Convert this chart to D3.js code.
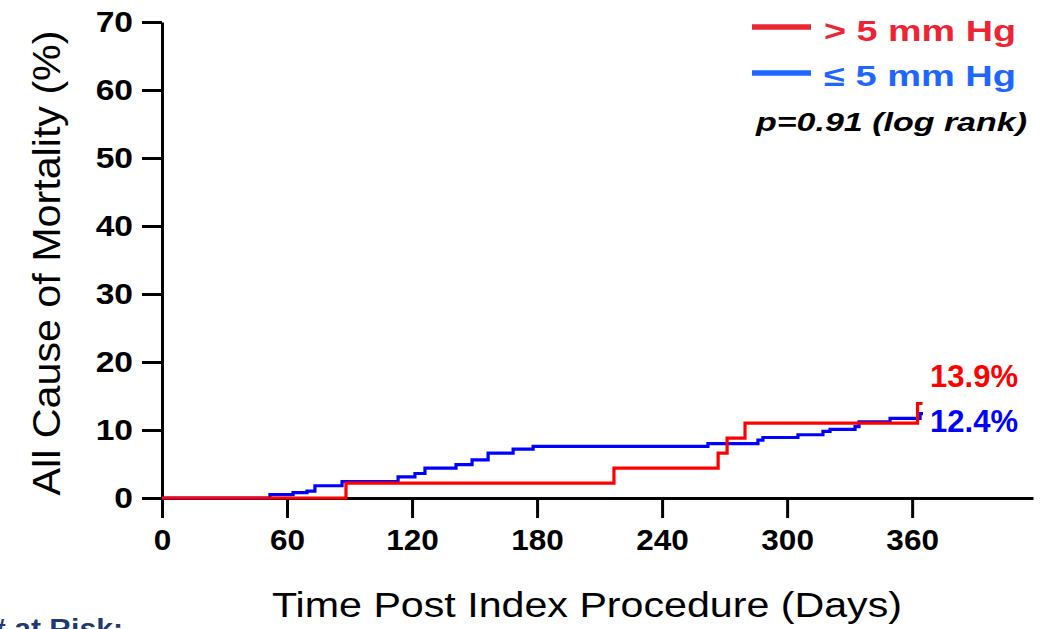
<!DOCTYPE html>
<html>
<head>
<meta charset="utf-8">
<script src="https://cdn.jsdelivr.net/npm/d3@7"></script>
<style>
  html, body { margin: 0; padding: 0; background: #fff; }
  svg { display: block; }
  text { font-family: "Liberation Sans", Arial, sans-serif; }
</style>
</head>
<body>
<svg id="chart" width="1055" height="629"></svg>
<script>
// Kaplan–Meier step data: event days and cumulative mortality (%)
const highDays = [0, 88.3, 216.9, 266.9, 271.2, 279.8, 362.6];
const highPct  = [0, 2.2, 4.4, 6.6, 8.8, 11.0, 13.9];
const highLastDay = 365;

const lowDays = [0, 51.8, 62.9, 69.6, 73.4, 86.4, 113.3, 121.4, 126.2, 141.1, 148.8, 156.5,
                 168.5, 178.1, 262, 286, 288.4, 305.2, 317.2, 320.6, 332.6, 334.5, 349.4, 363.8];
const lowPct  = [0, 0.5, 0.8, 1.0, 1.8, 2.4, 3.1, 3.6, 4.4, 4.9, 5.6, 6.6,
                 7.2, 7.6, 8.0, 8.5, 8.9, 9.3, 9.8, 10.1, 10.5, 11.2, 11.7, 12.4];
const lowLastDay = 365.2;

const xTicks = [0, 60, 120, 180, 240, 300, 360];
const yTicks = [0, 10, 20, 30, 40, 50, 60, 70];

const seriesNames = ["> 5 mm Hg", "\u2264 5 mm Hg"];
const finalLabels = ["13.9%", "12.4%"];
const pText = "p=0.91 (log rank)";
const xTitle = "Time Post Index Procedure (Days)";
const yTitle = "All Cause of Mortality (%)";
const riskText = "# at Risk:";

const svg = d3.select("#chart");

const x = d3.scaleLinear().domain([0, 418]).range([162, 1033]);
const y = d3.scaleLinear().domain([0, 70]).range([498, 22]);

// widen a text element horizontally by a factor, keeping it as real text
function widen(sel, factor) {
  sel.each(function () {
    const w = this.getComputedTextLength();
    d3.select(this).attr("textLength", w * factor).attr("lengthAdjust", "spacingAndGlyphs");
  });
}

// axes
const xAxis = svg.append("g")
  .attr("transform", `translate(0,${y(0)})`)
  .call(d3.axisBottom(x).tickValues(xTicks).tickSize(20).tickSizeOuter(0).tickPadding(11));
const yAxis = svg.append("g")
  .attr("transform", `translate(${x(0)},0)`)
  .call(d3.axisLeft(y).tickValues(yTicks).tickSize(20).tickSizeOuter(0).tickPadding(9));

[xAxis, yAxis].forEach(g => {
  g.select(".domain").attr("stroke", "#000").attr("stroke-width", 3);
  g.selectAll(".tick line").attr("stroke", "#000").attr("stroke-width", 3);
  g.selectAll(".tick text")
    .attr("fill", "#000")
    .style("font-family", '"Liberation Sans", Arial, sans-serif')
    .style("font-size", "30px")
    .style("font-weight", "bold");
});
widen(xAxis.selectAll(".tick text"), 1.05);
widen(yAxis.selectAll(".tick text"), 1.12);

// step curves
function stepPoints(days, pct, lastDay) {
  const pts = days.map((d, i) => [d, pct[i]]);
  pts.push([lastDay, pct[pct.length - 1]]);
  return pts;
}
const line = d3.line().x(d => x(d[0])).y(d => y(d[1])).curve(d3.curveStepAfter);

svg.append("path")
  .datum(stepPoints(lowDays, lowPct, lowLastDay))
  .attr("d", line)
  .attr("fill", "none")
  .attr("stroke", "#0000ff")
  .attr("stroke-width", 3.2);

svg.append("path")
  .datum(stepPoints(highDays, highPct, highLastDay))
  .attr("d", line)
  .attr("fill", "none")
  .attr("stroke", "#ff0000")
  .attr("stroke-width", 3.2);

// end-of-follow-up labels
svg.append("text")
  .attr("x", 930).attr("y", 387)
  .attr("fill", "#ff0000")
  .style("font-size", "31px").style("font-weight", "bold")
  .attr("textLength", 88).attr("lengthAdjust", "spacingAndGlyphs")
  .text(finalLabels[0]);
svg.append("text")
  .attr("x", 930).attr("y", 432)
  .attr("fill", "#0000ff")
  .style("font-size", "31px").style("font-weight", "bold")
  .attr("textLength", 88).attr("lengthAdjust", "spacingAndGlyphs")
  .text(finalLabels[1]);

// legend
const legendColors = ["#ec2434", "#1f66ff"];
const legendY = [27, 73];
const legendBase = [41, 86];
seriesNames.forEach((name, i) => {
  svg.append("line")
    .attr("x1", 752).attr("x2", 811)
    .attr("y1", legendY[i]).attr("y2", legendY[i])
    .attr("stroke", legendColors[i]).attr("stroke-width", 5.5);
  svg.append("text")
    .attr("x", 824).attr("y", legendBase[i])
    .attr("fill", legendColors[i])
    .style("font-size", "29px").style("font-weight", "bold")
    .attr("textLength", 192).attr("lengthAdjust", "spacingAndGlyphs")
    .text(name);
});

svg.append("text")
  .attr("x", 756).attr("y", 131)
  .attr("fill", "#000")
  .style("font-size", "26px").style("font-weight", "bold").style("font-style", "italic")
  .attr("textLength", 271).attr("lengthAdjust", "spacingAndGlyphs")
  .text(pText);

// axis titles
svg.append("text")
  .attr("x", 587).attr("y", 617)
  .attr("text-anchor", "middle")
  .attr("fill", "#000")
  .style("font-size", "35px")
  .attr("textLength", 630).attr("lengthAdjust", "spacingAndGlyphs")
  .text(xTitle);

svg.append("text")
  .attr("transform", "translate(60,263) rotate(-90)")
  .attr("text-anchor", "middle")
  .attr("fill", "#000")
  .style("font-size", "39px")
  .attr("textLength", 465).attr("lengthAdjust", "spacingAndGlyphs")
  .text(yTitle);

// number-at-risk heading (continues below the frame)
svg.append("text")
  .attr("x", -11).attr("y", 638)
  .attr("fill", "#1f3a6e")
  .style("font-size", "27px").style("font-weight", "bold")
  .attr("textLength", 134).attr("lengthAdjust", "spacingAndGlyphs")
  .text(riskText);
</script>
</body>
</html>
